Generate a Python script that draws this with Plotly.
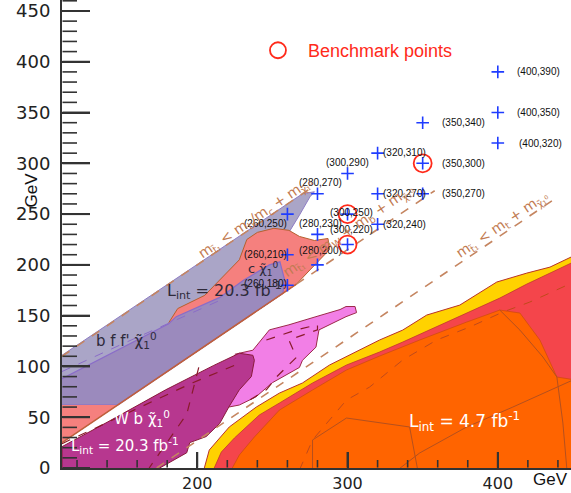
import plotly.graph_objects as go

# ---------------- data (GeV) ----------------
# signal grid points: stop mass, neutralino mass
pt_mstop = [400, 400, 350, 400, 320, 350, 300, 280, 320, 350, 260, 300, 280, 320, 300, 260, 280, 260]
pt_mlsp = [390, 350, 340, 320, 310, 300, 290, 270, 270, 270, 250, 250, 230, 240, 220, 210, 200, 180]
# benchmark points
bench_mstop = [300, 300, 350]
bench_mlsp = [250, 220, 300]

# exclusion contours (stop mass, neutralino mass)
lav_x = [110, 270, 278, 275, 268, 261, 256, 110]
lav_y = [111, 270, 272, 267, 249, 232, 171, 25]
salmon_x = [181, 187, 205, 228, 233, 240, 251, 261, 268, 278, 287, 288, 275, 266, 181]
salmon_y = [143, 157, 170, 205, 225, 232, 236, 234, 228, 224, 226, 215, 195, 181, 96]
dpur_x = [110, 181, 186, 215, 231, 248, 255, 258, 257, 147, 110]
dpur_y = [88, 142, 149, 168, 185, 200, 203, 186, 172, 62, 62]
strip_x = [110, 147, 110]
strip_y = [62, 62, 25]
pink_x = [225, 237, 248, 261, 279, 295, 299, 305, 306, 299, 281, 279, 270, 268, 250, 239, 228, 221]
pink_y = [112, 116, 136, 141, 149, 156, 159, 159, 153, 149, 136, 119, 106, 99, 84, 70, 62, 60]
mag_x = [110, 110, 140, 179, 211, 228, 237, 238, 236, 228, 221, 215, 206, 195, 193, 175]
mag_y = [0, 21, 45, 77, 101, 113, 111, 106, 90, 77, 60, 44, 31, 25, 15, 0]
yel_x = [204.7, 208, 221.3, 239.3, 254.7, 270, 288, 301.3, 321.3, 336.7, 352.7, 374.7, 399.3, 419.3, 434.7, 452, 452]
yel_y = [0, 17.7, 40.4, 60, 73.8, 83.7, 101.4, 111.2, 126, 135.8, 150.6, 160.4, 183.1, 191.9, 197.8, 210, 0]
red_x = [211.3, 216, 224.7, 241.3, 254.7, 276.7, 299.3, 321.3, 336.7, 374.7, 401.3, 419.3, 452, 452]
red_y = [0, 15.7, 29.5, 52.2, 64, 83.7, 101.4, 114.2, 124, 149.6, 167.3, 181.1, 204, 0]
ora_x = [223.3, 228, 238, 254.7, 276.7, 299.3, 321.3, 348, 379.3, 401.3, 414.7, 428, 439.3, 452, 452]
ora_y = [0, 12.8, 30.5, 57.1, 76.8, 96.5, 110.2, 126, 143.7, 155.5, 152.6, 126, 89.6, 86.6, 0]

# contour lines inside regions
ora_dash_x = [268, 276.7, 299.3, 314.7, 336.7, 359.3, 381.3, 403.3, 421.3, 452]
ora_dash_y = [-2, 27.6, 66.9, 79.7, 106.3, 126, 138.8, 153.5, 163.4, 184]
ora_box_x = [276.7, 276.7, 299.3, 341.3, 346.7]
ora_box_y = [-2, 27.6, 49.2, 40.4, -2]
ora_rise_x = [333.3, 348, 379.3, 410, 452]
ora_rise_y = [-2, 14.8, 40.4, 60, 88]
ora_vert_x = [401.3, 414.7, 430, 439.3, 443.3, 446]
ora_vert_y = [155.5, 135.8, 109.3, 89.6, 44.3, -2]
mag_dash1_x = [110, 163, 197, 228]
mag_dash1_y = [24, 61, 84, 103]
mag_dash2_x = [201, 193, 168]
mag_dash2_y = [99, 53, 0]
pink_dash_x = [246, 266, 280, 280, 261, 266, 253, 246, 235]
pink_dash_y = [126, 136, 141, 136, 126, 109, 90, 77, 67]
lav_dash_x = [110, 150, 215]
lav_dash_y = [95, 122, 165]

# kinematic limits: m_chi = m_stop - offset
kin_offsets = [0, 85, 85, 173]
kin_xstart = [110, 110, 266, 173]
kin_xend = [276, 266, 358, 440]

x_tick_vals = [200, 300, 400]
x_tick_text = ["200", "300", "400"]
y_tick_vals = [0, 50, 100, 150, 200, 250, 300, 350, 400, 450]
y_tick_text = ["0", "50", "100", "150", "200", "250", "300", "350", "400", "450"]
x_minor_step = 20
y_minor_step = 10

# ---------------- styles ----------------
W, H = 571, 493
M = dict(l=62, r=0, t=0, b=25)
xr = [110, 448.7]
yr = [0, 460.8]
axis_col = "#333333"
kin_styles = [dict(color="#c58560", width=1.6, dash="dash"),
              dict(color="#c0603a", width=1.6, dash="solid"),
              dict(color="#c58560", width=1.6, dash="dash"),
              dict(color="#c58560", width=1.6, dash="dash")]
label_style = [("left", 17, 0), ("left", 17, 0), ("left", 17, 0), ("left", 19, 0),
               ("left", 3, 1), ("left", 17, 0), ("center", 0, 11), ("center", 3, 11),
               ("left", 3, 0), ("left", 17, 0), ("center", -22, -9), ("center", 4, 2),
               ("center", 3, 11), ("left", 3, 0), ("center", 4, 15), ("center", -22, 0),
               ("center", 3, 14), ("center", -22, 2)]

fig = go.Figure()


def poly(x, y, fill, line_color=None, lw=0):
    fig.add_trace(go.Scatter(x=x, y=y, fill="toself", fillcolor=fill, mode="lines",
                             line=dict(color=line_color or fill, width=lw),
                             hoverinfo="skip", showlegend=False))


def curve(x, y, color, width=1, dash="solid"):
    fig.add_trace(go.Scatter(x=x, y=y, mode="lines", line=dict(color=color, width=width, dash=dash),
                             hoverinfo="skip", showlegend=False))


poly(yel_x, yel_y, "#ffd200", "#b8342a", 1)
poly(red_x, red_y, "#f4454b", "#c0392b", 0.8)
poly(ora_x, ora_y, "#ff6400", "#d04a10", 0.8)
curve(ora_dash_x, ora_dash_y, "#c04a1a", 1, "dash")
curve(ora_box_x, ora_box_y, "#b5501e", 1)
curve(ora_rise_x, ora_rise_y, "#b5501e", 1)
curve(ora_vert_x, ora_vert_y, "#b5501e", 1)

poly(pink_x, pink_y, "#f27fe6", "#9c2a4a", 1)
poly(mag_x, mag_y, "#b7378f", "#8a1a3a", 1)
curve(mag_dash1_x, mag_dash1_y, "#8a1a2a", 1.2, "dash")
curve(mag_dash2_x, mag_dash2_y, "#8a1a2a", 1.2, "dash")
curve(pink_dash_x, pink_dash_y, "#8a1a2a", 1.2, "dash")

poly(lav_x, lav_y, "#aaa5c7", "#8d7cc4", 1)
poly(salmon_x, salmon_y, "#f5807e", "#b5602d", 1)
poly(dpur_x, dpur_y, "#9b8abd", "#8a6cc8", 1.2)
poly(strip_x, strip_y, "#f5807e", "#f5807e", 0)
curve(lav_dash_x, lav_dash_y, "#8a6cc8", 1, "dash")

for off, x0, x1, st in zip(kin_offsets, kin_xstart, kin_xend, kin_styles):
    curve([x0, x1], [x0 - off, x1 - off], st["color"], st["width"], st["dash"])

# inward axis tick marks (lengths given in pixels, converted with the axis scales)
gev_per_px_x = (xr[1] - xr[0]) / (W - M["l"] - M["r"])
gev_per_px_y = (yr[1] - yr[0]) / (H - M["t"] - M["b"])
x_minor = [v for v in range(0, 1000, x_minor_step) if xr[0] < v < xr[1] and v not in x_tick_vals]
y_minor = [v for v in range(0, 1000, y_minor_step) if yr[0] < v < yr[1] and v not in y_tick_vals]


def tick_trace(vals, length_px, width, vertical):
    for v in vals:
        if vertical:
            xs, ys = [v, v], [yr[0] + 0.5 * gev_per_px_y, yr[0] + length_px * gev_per_px_y]
        else:
            xs, ys = [xr[0] + 0.5 * gev_per_px_x, xr[0] + length_px * gev_per_px_x], [v, v]
        fig.add_trace(go.Scatter(x=xs, y=ys, mode="lines", line=dict(color=axis_col, width=width),
                                 hoverinfo="skip", showlegend=False))


tick_trace(x_tick_vals, 16, 2, True)
tick_trace(x_minor, 8, 1.6, True)
tick_trace(y_tick_vals, 28, 2, False)
tick_trace(y_minor, 15, 1.6, False)

# grid points
fig.add_trace(go.Scatter(x=pt_mstop, y=pt_mlsp, mode="markers",
                         marker=dict(symbol="cross-thin", size=9, line=dict(color="#1f3cff", width=1.6)),
                         hoverinfo="skip", showlegend=False))
fig.add_trace(go.Scatter(x=bench_mstop, y=bench_mlsp, mode="markers", name="  Benchmark points",
                         marker=dict(symbol="circle-open", size=18, color="#ff2a1a", line=dict(width=1.8)),
                         hoverinfo="skip", showlegend=True))

ann = []
for mx, my, (anc, xs, ys) in zip(pt_mstop, pt_mlsp, label_style):
    ann.append(dict(x=mx, y=my, xref="x", yref="y", text=f"({mx},{my})", showarrow=False,
                    xanchor=anc, yanchor="middle", xshift=xs, yshift=ys,
                    font=dict(family="Liberation Sans", size=10, color="#111")))

brown = "#c27b52"
ann += [
    dict(x=239, y=246, text="m<sub>t̃₁</sub> < m<sub>b</sub>/m<sub>c</sub> + m<sub>χ̃₁⁰</sub>",
         textangle=-34, font=dict(family="DejaVu Sans", size=14, color=brown)),
    dict(x=301, y=233, text="m<sub>t̃₁</sub> < m<sub>W</sub> + m<sub>b</sub> + m<sub>χ̃₁⁰</sub>",
         textangle=-34, font=dict(family="DejaVu Sans", size=14, color=brown)),
    dict(x=403, y=239, text="m<sub>t̃₁</sub> < m<sub>t</sub> + m<sub>χ̃₁⁰</sub>",
         textangle=-34, font=dict(family="DejaVu Sans", size=14, color=brown)),
    dict(x=153, y=126, text="b f f' χ̃<sub>1</sub><sup>0</sup>",
         font=dict(family="DejaVu Sans", size=15, color="#2e2a3a")),
    dict(x=218, y=175, text="L<sub>int</sub> = 20.3 fb<sup>-1</sup>",
         font=dict(family="DejaVu Sans", size=16, color="#2e2a3a")),
    dict(x=244, y=196, text="c χ̃<sub>1</sub><sup>0</sup>",
         font=dict(family="DejaVu Sans", size=13, color="#2e2a3a")),
    dict(x=163, y=49, text="W b χ̃<sub>1</sub><sup>0</sup>",
         font=dict(family="DejaVu Sans", size=15, color="white")),
    dict(x=152, y=22, text="L<sub>int</sub> = 20.3 fb<sup>-1</sup>",
         font=dict(family="DejaVu Sans", size=15, color="white")),
    dict(x=378, y=46, text="L<sub>int</sub> = 4.7 fb<sup>-1</sup>",
         font=dict(family="DejaVu Sans", size=17, color="white")),
]
for a in ann[len(pt_mstop):]:
    a.update(xref="x", yref="y", showarrow=False)

ann += [
    dict(x=0.96, y=-0.024, xref="paper", yref="paper", text="GeV", showarrow=False,
         xanchor="center", yanchor="middle", font=dict(family="Liberation Sans", size=17, color="#111")),
    dict(x=-0.06, y=0.594, xref="paper", yref="paper", text="GeV", showarrow=False, textangle=-90,
         xanchor="center", yanchor="middle", font=dict(family="Liberation Sans", size=17, color="#111")),
]

fig.update_layout(
    width=W, height=H, margin=M,
    plot_bgcolor="white", paper_bgcolor="white",
    annotations=ann,
    xaxis=dict(range=xr, showline=True, linecolor=axis_col, linewidth=2,
               tickmode="array", tickvals=x_tick_vals, ticktext=x_tick_text,
               ticks="inside", ticklen=16, tickwidth=2, tickcolor=axis_col,
               showgrid=False, zeroline=False, automargin=False,
               tickfont=dict(family="DejaVu Sans", size=16, color="#222")),
    yaxis=dict(range=yr, showline=True, linecolor=axis_col, linewidth=2,
               tickmode="array", tickvals=y_tick_vals, ticktext=y_tick_text,
               ticks="inside", ticklen=28, tickwidth=2, tickcolor=axis_col,
               showgrid=False, zeroline=False, automargin=False, ticklabelstandoff=6,
               tickfont=dict(family="DejaVu Sans", size=18, color="#222")),
    legend=dict(x=0.385, y=0.892, xanchor="left", yanchor="middle",
                bgcolor="rgba(0,0,0,0)", itemsizing="trace",
                font=dict(family="Liberation Sans", size=18, color="#ff2a1a")))

fig.write_html("out.html")
